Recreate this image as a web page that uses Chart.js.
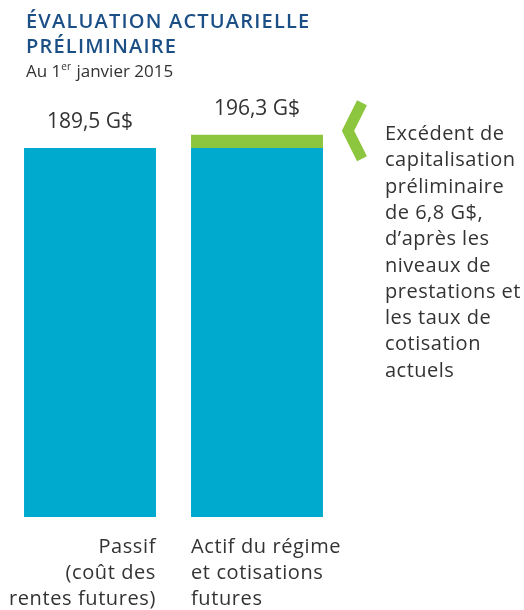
<!DOCTYPE html>
<html><head><meta charset="utf-8">
<script src="https://cdn.jsdelivr.net/npm/chart.js@4/dist/chart.umd.min.js"></script>
<style>html,body{margin:0;padding:0;background:#fff;}#wrap{position:relative;width:524px;height:610px;}</style>
</head><body><div id="wrap"><canvas id="c" width="524" height="610"></canvas></div>
<script>
const categories = [["Passif","(coût des","rentes futures)"],["Actif du régime","et cotisations","futures"]];
const baseValues = [189.5, 189.5];
const surplusValues = [0, 6.8];
const valueLabels = ["189,5 G$", "196,3 G$"];
const titleLines = ["ÉVALUATION ACTUARIELLE", "PRÉLIMINAIRE"];
const subtitle = ["Au 1", "er", " janvier 2015"];
const noteLines = ["Excédent de","capitalisation","préliminaire","de 6,8 G$,","d’après les","niveaux de","prestations et","les taux de","cotisation","actuels"];

const BLUE = "#00a9ce", GREEN = "#8cc63f", NAVY = "#1b4f86", TXT = "#333333";
const FONT = "'Open Sans', sans-serif";

const deco = {
  id: "deco",
  afterDraw(chart) {
    const ctx = chart.ctx, x = chart.scales.x, y = chart.scales.y;
    const ls = v => { if ("letterSpacing" in ctx) ctx.letterSpacing = v; };
    ctx.save();
    // title
    ctx.fillStyle = NAVY;
    ctx.font = "600 20px " + FONT;
    ctx.textAlign = "left"; ctx.textBaseline = "alphabetic";
    ls("1.2px");
    ctx.fillText(titleLines[0], 26, 28);
    ctx.fillText(titleLines[1], 26, 53);
    ls("0px");
    // subtitle
    ctx.fillStyle = TXT;
    ctx.font = "17px " + FONT;
    let sx = 26;
    ctx.fillText(subtitle[0], sx, 77); sx += ctx.measureText(subtitle[0]).width;
    ctx.font = "10px " + FONT;
    ctx.fillText(subtitle[1], sx, 70); sx += ctx.measureText(subtitle[1]).width + 1;
    ctx.font = "17px " + FONT;
    ctx.fillText(subtitle[2], sx, 77);
    // value labels
    ctx.font = "21px " + FONT;
    ctx.textAlign = "center";
    for (let i = 0; i < valueLabels.length; i++) {
      const tot = baseValues[i] + surplusValues[i];
      ctx.fillText(valueLabels[i], x.getPixelForValue(i), y.getPixelForValue(tot) - 20);
    }
    // category labels
    const meta = chart.getDatasetMeta(0);
    ctx.font = "20px " + FONT;
    ls("0.6px");
    for (let i = 0; i < categories.length; i++) {
      const bar = meta.data[i];
      const left = bar.x - bar.width / 2, right = bar.x + bar.width / 2;
      ctx.textAlign = i === 0 ? "right" : "left";
      const tx = i === 0 ? right : left;
      categories[i].forEach((ln, j) => ctx.fillText(ln, tx, 553 + j * 26));
    }
    // chevron
    const c = y.getPixelForValue(baseValues[1] + surplusValues[1]) - 4;
    ctx.strokeStyle = GREEN; ctx.lineWidth = 11; ctx.lineJoin = "miter"; ctx.lineCap = "butt";
    ctx.beginPath();
    ctx.moveTo(362, c - 28); ctx.lineTo(348, c); ctx.lineTo(362, c + 28);
    ctx.stroke();
    // note
    ctx.fillStyle = TXT; ctx.textAlign = "left";
    ctx.font = "20px " + FONT;
    ls("0.5px");
    noteLines.forEach((ln, j) => ctx.fillText(ln, 385, 140 + j * 26.3));
    ls("0px");
    ctx.restore();
  }
};

new Chart(document.getElementById("c"), {
  type: "bar",
  data: {
    labels: categories.map(c => c.join(" ")),
    datasets: [
      { data: baseValues, backgroundColor: BLUE, borderWidth: 0 },
      { data: surplusValues, backgroundColor: GREEN, borderWidth: 0 }
    ]
  },
  options: {
    responsive: false, animation: false,
    layout: { padding: { left: 6.5, right: 183.5, top: 108.1, bottom: 93 } },
    datasets: { bar: { categoryPercentage: 1, barPercentage: 0.79 } },
    scales: {
      x: { display: false, stacked: true },
      y: { display: false, stacked: true, min: 0, max: 210 }
    },
    plugins: { legend: { display: false }, tooltip: { enabled: false } }
  },
  plugins: [deco]
});
</script></body></html>
